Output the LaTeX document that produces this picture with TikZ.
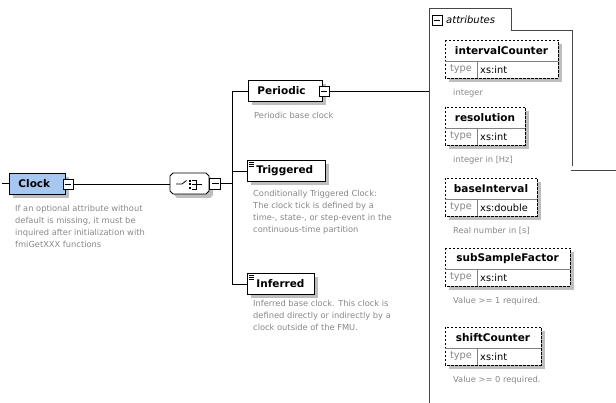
\documentclass[tikz,border=0pt]{standalone}
\usepackage{fontspec}
\setmainfont{DejaVu Sans}
\usetikzlibrary{shapes.misc,shadows}

\definecolor{clockblue}{RGB}{166,200,240}
\definecolor{notegray}{RGB}{135,135,135}
\definecolor{shadegray}{RGB}{190,190,190}
\definecolor{framegray}{RGB}{70,70,70}

\newcommand{\boldlabel}{\bfseries\fontsize{10.5}{12}\selectfont}
\newcommand{\notefont}{\fontsize{8.3}{12}\selectfont}
\newcommand{\typefont}{\fontsize{9.8}{11}\selectfont}

\tikzset{
  elbox/.style={draw, line width=0.9pt, fill=white, anchor=north west, inner xsep=9, inner ysep=0,
    minimum height=21, align=left, font=\boldlabel,
    general shadow={fill=shadegray, shadow xshift=4pt, shadow yshift=-4pt}},
  choicebox/.style={chamfered rectangle, chamfered rectangle xsep=6pt, chamfered rectangle ysep=6pt,
    draw, line width=0.9pt, fill=white, minimum width=39, minimum height=21, inner xsep=0, inner ysep=3pt,
    general shadow={fill=shadegray, shadow xshift=4pt, shadow yshift=-4pt}},
  minusbox/.style={draw, line width=0.6pt, fill=white, minimum size=10, inner sep=0,
    path picture={\draw[line width=0.6pt] ([xshift=2pt]path picture bounding box.west) -- ([xshift=-2pt]path picture bounding box.east);}},
  note/.style={anchor=north west, inner sep=0, align=left, text=notegray, font=\notefont},
  link/.style={line width=0.8pt},
  container/.style={line width=1pt, draw=framegray},
  attrframe/.style={draw, line width=0.8pt, dash pattern=on 2.5pt off 1.5pt, fill=white},
  divider/.style={line width=0.6pt, draw=gray},
  attrname/.style={inner sep=0, font=\boldlabel},
  typekey/.style={inner sep=0, text=notegray, font=\typefont},
  typeval/.style={inner sep=0, anchor=west, font=\typefont},
}

% #1 id, #2 top, #3 width, #4 name, #5 type, #6 note
\newcommand{\attrbox}[6]{%
  \fill[shadegray] (449,{#2+4}) rectangle ({449+#3},{#2+42});
  \draw[attrframe] (445,#2) rectangle ({445+#3},{#2+38});
  \draw[divider] (445,{#2+21}) -- ({445+#3},{#2+21});
  \draw[divider] (477,{#2+21}) -- (477,{#2+38});
  \node[attrname] (#1) at ({445+#3/2},{#2+10.5}) {#4};
  \node[typekey] (#1-key) at (461,{#2+29.5}) {type};
  \node[typeval] (#1-val) at (480,{#2+29.5}) {#5};
  \node[note] (#1-note) at (453,{#2+48.5}) {#6};
}

\begin{document}
\begin{tikzpicture}[x=1pt,y=-1pt]
\useasboundingbox (0,0) rectangle (616,403);

% connectors
\coordinate (clockin) at (2,183.5);
\coordinate (bus) at (232,0);
\coordinate (attrcorner) at (429,9);

% left part
\node[elbox, fill=clockblue, text width=38] (clock) at (9,173) {Clock};
\node[choicebox] (choice) at (189.5,183.5) {};
\node[elbox, text width=56] (periodic) at (248,80) {Periodic};
\node[elbox, text width=60] (triggered) at (247,160) {Triggered};
\node[elbox, text width=49] (inferred) at (247,273) {Inferred};

\draw[link] (clockin) -- (clockin -| clock.west);
\draw[link] (clock.east) -- (clock.east -| choice.west);
\draw[link] (choice.east) -- (choice.east -| bus);
\draw[link] (bus |- periodic.west) -- (bus |- inferred.west);
\draw[link] (bus |- periodic.west) -- (periodic.west);
\draw[link] (bus |- triggered.west) -- (triggered.west);
\draw[link] (bus |- inferred.west) -- (inferred.west);
\draw[link] (periodic.east) -- (periodic.east -| attrcorner);

\node[minusbox] (clockminus) at ([shift={(2,0)}]clock.east) {};
\node[minusbox, minimum size=11] (choiceminus) at (choice.east -| 215,0) {};
\node[minusbox] (periodicminus) at ([shift={(1,0)}]periodic.east) {};

% choice icon
\draw[line width=0.8pt] ([shift={(-13.5,0.5)}]choice.center) -- ([shift={(-7.5,0.5)}]choice.center)
  -- ([shift={(-3,-3)}]choice.center);
\foreach \dy in {-3.5,0,3.5}
  \fill ([shift={(-1,\dy)}]choice.center) rectangle ([shift={(1.2,\dy+2)}]choice.center);
\draw[line width=0.8pt] ([shift={(2.5,-3.5)}]choice.center) -- ([shift={(6.5,-3.5)}]choice.center)
  -- ([shift={(6.5,5.5)}]choice.center) -- ([shift={(2.5,5.5)}]choice.center);
\draw[line width=0.8pt] ([shift={(2.5,1)}]choice.center) -- ([shift={(12.5,1)}]choice.center);

% text content icons
\foreach \el in {triggered,inferred}
  \foreach \dy in {2,4,6}
    \draw[line width=0.5pt] ([shift={(2,\dy)}]\el.north west) -- ([shift={(7,\dy)}]\el.north west);

% notes
\node[note] (clocknote) at (15,204.5) {If an optional attribute without\\default is missing, it must be\\inquired after initialization with\\fmiGetXXX functions};
\node[note] (periodicnote) at (254,111.5) {Periodic base clock};
\node[note] (triggerednote) at (253,189.5) {Conditionally Triggered Clock:\\The clock tick is defined by a\\time-, state-, or step-event in the\\continuous-time partition};
\node[note] (inferrednote) at (253,299.5) {Inferred base clock. This clock is\\defined directly or indirectly by a\\clock outside of the FMU.};

% attributes group
\draw[container] (429,403) -- (attrcorner) -- (511,9) -- (511,31) -- (572,31) -- (572,166);
\draw[container] (571,171) -- (616,171);
\node[minusbox] (attrminus) at (437,20) {};
\node[anchor=west, inner sep=0, font=\itshape\fontsize{10}{12}\selectfont] (attrtitle) at (446,20) {attributes};

\attrbox{intervalcounter}{40}{113}{intervalCounter}{xs:int}{integer}
\attrbox{resolution}{107}{80}{resolution}{xs:int}{integer in [Hz]}
\attrbox{baseinterval}{178}{92}{baseInterval}{xs:double}{Real number in [s]}
\attrbox{subsamplefactor}{248}{125}{subSampleFactor}{xs:int}{Value >= 1 required.}
\attrbox{shiftcounter}{327}{96}{shiftCounter}{xs:int}{Value >= 0 required.}

\end{tikzpicture}
\end{document}
